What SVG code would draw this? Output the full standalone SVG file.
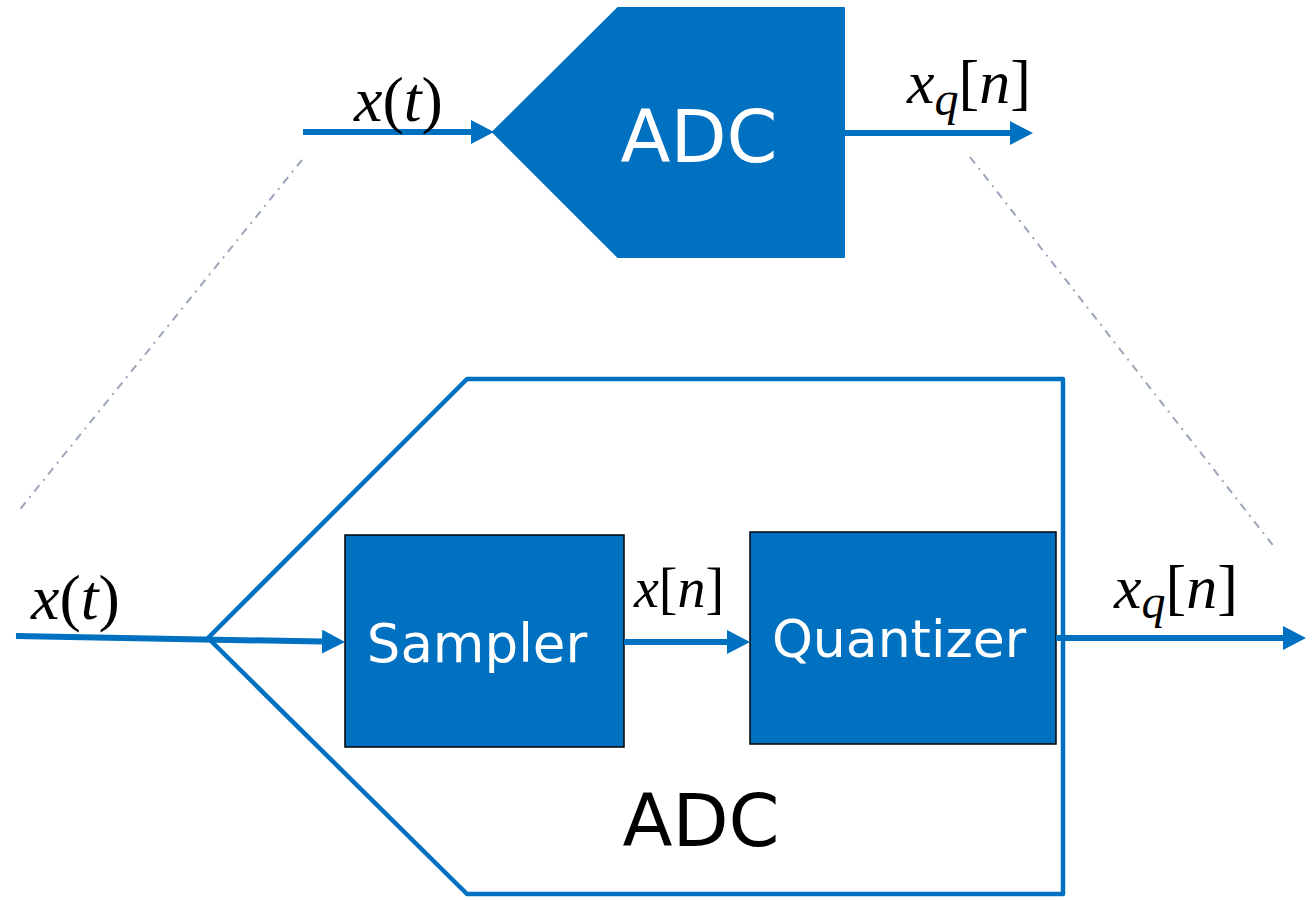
<svg xmlns="http://www.w3.org/2000/svg" width="1312" height="900" viewBox="0 0 1312 900">
  <style>
    .bg { fill: #ffffff; }
    .block { fill: #0070C0; stroke: #000000; stroke-width: 1.5; }
    .adcSolid { fill: #0070C0; stroke: #0070C0; stroke-width: 2; stroke-linejoin: round; }
    .adcFrame { fill: none; stroke: #0070C0; stroke-width: 4.5; stroke-linejoin: round; }
    .wire { fill: none; stroke: #0070C0; stroke-width: 6; }
    .guide { fill: none; stroke: #9AA6B8; stroke-width: 2; stroke-dasharray: 8 6 2 6; }
    .label { font-family: "DejaVu Sans", Verdana, sans-serif; text-anchor: middle; }
    .white { fill: #ffffff; }
    .black { fill: #000000; }
    .math { font-family: "Liberation Serif", "Times New Roman", serif; fill: #000000; }
    .it { font-style: italic; }
  </style>
  <defs>
    <!-- arrowhead starts where the wire stops -->
    <marker id="head" markerUnits="userSpaceOnUse" markerWidth="26" markerHeight="26" refX="0" refY="12" orient="auto">
      <path d="M0,0 L23,12 L0,24 Z" fill="#0070C0"/>
    </marker>
  </defs>

  <rect class="bg" x="0" y="0" width="1312" height="900"/>

  <!-- zoom guides between the compact block and its expanded view -->
  <g id="guides">
    <line class="guide" x1="302" y1="160" x2="17" y2="513"/>
    <line class="guide" x1="970" y1="157" x2="1275" y2="548"/>
  </g>

  <!-- compact ADC symbol -->
  <g id="adc-top">
    <polygon class="adcSolid" points="493,132 618,8 844,8 844,257 618,257"/>
    <text class="label white" x="699" y="162" font-size="73">ADC</text>
  </g>

  <!-- expanded ADC frame -->
  <g id="adc-frame">
    <polygon class="adcFrame" points="208,638 467,379 1063,379 1063,894 467,894"/>
    <text class="label black" x="701" y="846" font-size="73">ADC</text>
  </g>

  <g id="sampler">
    <rect class="block" x="345" y="535" width="279" height="212"/>
    <text class="label white" x="477" y="662" font-size="53">Sampler</text>
  </g>

  <g id="quantizer">
    <rect class="block" x="750" y="532" width="306" height="212"/>
    <text class="label white" x="899" y="657" font-size="52">Quantizer</text>
  </g>

  <!-- signal connectors -->
  <g id="connectors">
    <line class="wire" x1="303" y1="132" x2="471" y2="132" marker-end="url(#head)"/>
    <line class="wire" x1="845" y1="133" x2="1010" y2="133" marker-end="url(#head)"/>
    <line class="wire" x1="16" y1="636" x2="322" y2="641.6" marker-end="url(#head)"/>
    <line class="wire" x1="624" y1="642" x2="727" y2="642" marker-end="url(#head)"/>
    <line class="wire" x1="1056" y1="638" x2="1283" y2="638" marker-end="url(#head)"/>
  </g>

  <!-- signal labels -->
  <g id="labels">
    <text class="math" x="354" y="121" font-size="64"><tspan class="it">x</tspan>(<tspan class="it">t</tspan>)</text>
    <text class="math" x="907" y="103" font-size="62"><tspan class="it">x</tspan><tspan class="it" font-size="48" dy="12">q</tspan><tspan dy="-12">[</tspan><tspan class="it">n</tspan>]</text>
    <text class="math" x="31" y="619" font-size="64"><tspan class="it">x</tspan>(<tspan class="it">t</tspan>)</text>
    <text class="math" x="634" y="607" font-size="56"><tspan class="it">x</tspan>[<tspan class="it">n</tspan>]</text>
    <text class="math" x="1114" y="608" font-size="62"><tspan class="it">x</tspan><tspan class="it" font-size="48" dy="10">q</tspan><tspan dy="-10">[</tspan><tspan class="it">n</tspan>]</text>
  </g>
</svg>
